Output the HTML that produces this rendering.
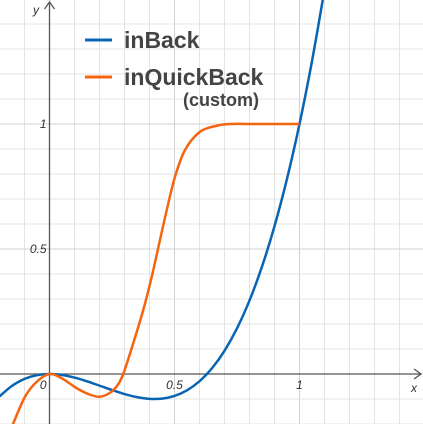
<!DOCTYPE html>
<html><head><meta charset="utf-8"><style>
html,body{margin:0;padding:0;background:#fff;}
svg{display:block;font-family:"Liberation Sans",sans-serif;}
</style></head><body>
<svg id="chart" width="423" height="424" viewBox="0 0 423 424">
<g id="grid"></g>
<g id="axes"></g>
<g id="series"></g>
<g>
  <line x1="85" y1="40" x2="112" y2="40" stroke="#0a64b4" stroke-width="3"/>
  <text x="124" y="48" font-size="23" font-weight="bold" fill="#444">inBack</text>
  <line x1="85" y1="77" x2="112" y2="77" stroke="#f5640f" stroke-width="3"/>
  <text x="124" y="85" font-size="23" font-weight="bold" fill="#444">inQuickBack</text>
  <text x="183" y="106" font-size="18" font-weight="bold" fill="#444">(custom)</text>
</g>
</svg>
<script>
const xTickValues=[0,0.5,1];
const xTickLabels=["0","0.5","1"];
const yTickValues=[0.5,1];
const yTickLabels=["0.5","1"];
const inBackT=[-0.2,-0.15,-0.1,-0.05,0,0.05,0.1,0.15,0.2,0.25,0.3,0.35,0.4,0.45,0.5,0.55,0.6,0.65,0.7,0.75,0.8,0.85,0.9,0.95,1.0,1.05,1.1];
const inBackV=[-0.0897,-0.0474,-0.0197,-0.0046,0,-0.0039,-0.0143,-0.0292,-0.0465,-0.0641,-0.0802,-0.0926,-0.0994,-0.0984,-0.0877,-0.0653,-0.029,0.023,0.0929,0.1826,0.2942,0.4297,0.5912,0.7806,1.0,1.2514,1.5369];
const quickT=[-0.16,-0.145,-0.098,-0.051,0,0.049,0.109,0.16,0.202,0.242,0.272,0.295,0.335,0.375,0.409,0.439,0.469,0.502,0.542,0.602,0.669,0.72,0.8,0.9,1.0];
const quickV=[-0.23,-0.197,-0.091,-0.031,0,-0.017,-0.057,-0.082,-0.091,-0.075,-0.045,0,0.123,0.256,0.389,0.523,0.656,0.789,0.896,0.969,0.993,1,1,1,1];

const X0=49.5,Y0=374,U=250;
const sx=t=>X0+t*U, sy=v=>Y0-v*U;
const NS="http://www.w3.org/2000/svg";
function mk(tag,attrs,parent){const e=document.createElementNS(NS,tag);for(const k in attrs)e.setAttribute(k,attrs[k]);parent.appendChild(e);return e;}
const grid=document.getElementById('grid'),axes=document.getElementById('axes'),series=document.getElementById('series');
for(let i=-2;i<=16;i++){const x=sx(i*0.1);if(x<0||x>423)continue;
 const l=mk('line',{x1:x,y1:0,x2:x,y2:424,stroke:i%5===0?'#d0d0d0':'#e4e4e4','stroke-width':1},grid);
 
 }
for(let i=-2;i<=16;i++){const y=sy(i*0.1);if(y<0||y>424)continue;
 const l=mk('line',{x1:0,y1:y,x2:423,y2:y,stroke:i%5===0?'#d0d0d0':'#e4e4e4','stroke-width':1},grid);
 
 }
let a=mk('line',{x1:0,y1:Y0,x2:421,y2:Y0,stroke:'#555','stroke-width':1.3},axes);


a=mk('path',{d:`M${414},${Y0-5} L421,${Y0} L${414},${Y0+5}`,fill:'none',stroke:'#555','stroke-width':1.3},axes);


a=mk('line',{x1:X0,y1:424,x2:X0,y2:2,stroke:'#555','stroke-width':1.3},axes);


a=mk('path',{d:`M${X0-5},9 L${X0},2 L${X0+5},9`,fill:'none',stroke:'#555','stroke-width':1.3},axes);


let t=mk('text',{x:411,y:392,'font-size':12,'font-style':'italic',fill:'#333'},axes);t.textContent='x';


t=mk('text',{x:33,y:14,'font-size':12,'font-style':'italic',fill:'#333'},axes);t.textContent='y';


xTickValues.forEach((v,i)=>{const e=mk('text',{x:v===0?X0-3:sx(v),y:389,'font-size':12,'font-style':'italic',fill:'#333','text-anchor':v===0?'end':'middle'},axes);e.textContent=xTickLabels[i];
 
 });
yTickValues.forEach((v,i)=>{const e=mk('text',{x:X0-3,y:sy(v)+4,'font-size':12,'font-style':'italic',fill:'#333','text-anchor':'end'},axes);e.textContent=yTickLabels[i];
 
 });
function smooth(T,V){const p=T.map((tt,i)=>[sx(tt),sy(V[i])]);let d=`M${p[0][0]},${p[0][1]}`;
 for(let i=0;i<p.length-1;i++){const p0=p[i-1]||p[i],p1=p[i],p2=p[i+1],p3=p[i+2]||p2;
  d+=` C${p1[0]+(p2[0]-p0[0])/6},${p1[1]+(p2[1]-p0[1])/6} ${p2[0]-(p3[0]-p1[0])/6},${p2[1]-(p3[1]-p1[1])/6} ${p2[0]},${p2[1]}`;}
 return d;}
let s=mk('path',{d:smooth(inBackT,inBackV),fill:'none',stroke:'#0a64b4','stroke-width':2.5},series);


s=mk('path',{d:smooth(quickT,quickV),fill:'none',stroke:'#f5640f','stroke-width':2.5},series);


</script>
</body></html>
